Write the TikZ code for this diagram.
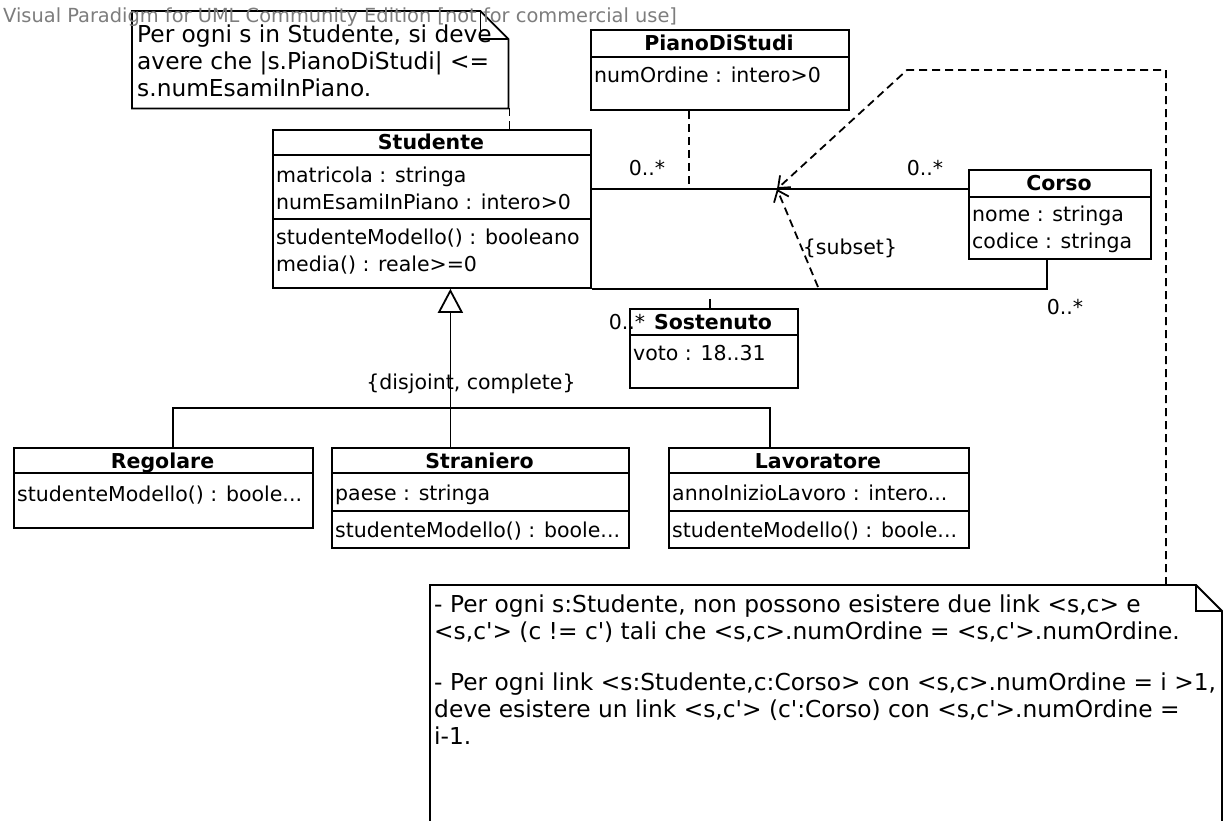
\documentclass[tikz,border=0pt]{standalone}
\usepackage{fontspec}
\setmainfont{DejaVu Sans}
\usetikzlibrary{arrows.meta}
\newcommand\clsfont{\fontsize{20.5}{27}\selectfont}
\newcommand\hdfont{\bfseries\fontsize{20.5}{27}\selectfont}
\newcommand\ntfont{\fontsize{23.3}{27}\selectfont}
\newcommand\wmfont{\fontsize{19.4}{22}\selectfont}
\definecolor{wmgray}{RGB}{125,125,125}
\begin{document}
\begin{tikzpicture}[x=1pt, y=-1pt,
  box/.style={draw, line width=1.8pt, inner sep=0pt, anchor=north west, fill=white},
  sep/.style={line width=1.8pt},
  conn/.style={line width=1.8pt},
  dconn/.style={line width=1.8pt, dash pattern=on 8pt off 5pt},
  head/.style={font=\hdfont, inner sep=0pt, text height=14.9pt, text depth=0pt},
  txt/.style={font=\clsfont, inner sep=0pt, anchor=west, text height=14.9pt, text depth=0pt},
  lbl/.style={font=\clsfont, inner sep=0pt, text height=14.9pt, text depth=0pt},
  ntxt/.style={font=\ntfont, inner sep=0pt, anchor=west, text height=17pt, text depth=0pt},
  opentip/.style={-{Straight Barb[length=10pt, width=16pt]}}
]
\useasboundingbox (0,0) rectangle (1223,820);
\fill[white] (0,0) rectangle (1223,820);

% ---- note on Studente
\node[inner sep=0pt, minimum width=376pt, minimum height=97pt, anchor=north west] (note1) at (132,11) {};
\draw[conn, fill=white] (note1.north west) -- ([xshift=-28pt]note1.north east) -- ([yshift=-28pt]note1.north east) -- (note1.south east) -- (note1.south west) -- cycle;
\draw[conn] ([xshift=-28pt]note1.north east) -- ([xshift=-28pt, yshift=-28pt]note1.north east) -- ([yshift=-28pt]note1.north east);
\node[ntxt] (n1l1) at (137,34) {Per ogni s in Studente, si deve};
\node[ntxt] (n1l2) at (137,61) {avere che |s.PianoDiStudi| <=};
\node[ntxt] (n1l3) at (137,88) {s.numEsamiInPiano.};

% ---- Studente
\node[box, minimum width=318pt, minimum height=158pt] (studente) at (272,129) {};
\draw[sep] (272,155) -- (590,155);
\draw[sep] (272,219) -- (590,219);
\node[head] (stuh) at (431,142) {Studente};
\node[txt] (stu1) at (276,175) {matricola : stringa};
\node[txt] (stu2) at (276,202) {numEsamiInPiano : intero>0};
\node[txt] (stu3) at (276,237) {studenteModello() : booleano};
\node[txt] (stu4) at (276,264) {media() : reale>=0};

\draw[dconn] ([xshift=1pt]note1.south east) -- ([xshift=1pt]note1.south east |- studente.north);

% ---- PianoDiStudi
\node[box, minimum width=258pt, minimum height=80pt] (pds) at (590,29) {};
\draw[sep] (590,57) -- (848,57);
\node[head] (pdsh) at (719,43) {PianoDiStudi};
\node[txt] (pds1) at (594,75) {numOrdine : intero>0};

% ---- Corso
\node[box, minimum width=182pt, minimum height=89pt] (corso) at (968,169) {};
\draw[sep] (968,197) -- (1150,197);
\node[head] (corsoh) at (1059,183) {Corso};
\node[txt] (corso1) at (972,214) {nome : stringa};
\node[txt] (corso2) at (972,241) {codice : stringa};

% ---- Sostenuto
\node[box, minimum width=168pt, minimum height=79pt] (sost) at (629,308) {};
\draw[sep] (629,335) -- (797,335);
\node[head] (sosth) at (713,322) {Sostenuto};
\node[txt] (sost1) at (633,353) {voto : 18..31};

% ---- subclasses
\node[box, minimum width=299pt, minimum height=80pt] (regolare) at (13,447) {};
\draw[sep] (13,473) -- (312,473);
\node[head] (regh) at (162.5,461) {Regolare};
\node[txt] (reg1) at (17,494) {studenteModello() : boole...};

\node[box, minimum width=297pt, minimum height=100pt] (straniero) at (331,447) {};
\draw[sep] (331,473) -- (628,473);
\draw[sep] (331,511) -- (628,511);
\node[head] (strh) at (479.5,461) {Straniero};
\node[txt] (str1) at (335,493) {paese : stringa};
\node[txt] (str2) at (335,530) {studenteModello() : boole...};

\node[box, minimum width=300pt, minimum height=100pt] (lavoratore) at (668,447) {};
\draw[sep] (668,473) -- (968,473);
\draw[sep] (668,511) -- (968,511);
\node[head] (lavh) at (818,461) {Lavoratore};
\node[txt] (lav1) at (672,493) {annoInizioLavoro : intero...};
\node[txt] (lav2) at (672,530) {studenteModello() : boole...};

% ---- associations
\coordinate (stuA) at ([yshift=-60pt]studente.north east);
\coordinate (corA) at ([yshift=-20pt]corso.north west);
\draw[conn] (stuA) -- (corA);
\coordinate (corB) at ([xshift=79pt]corso.south west);
\draw[conn] (studente.south east) -| (corB);

\coordinate (pdsfoot) at ([xshift=99pt]pds.south west);
\draw[dconn] (pdsfoot) -- (pdsfoot |- stuA);
\coordinate (sosttop) at ([xshift=-4pt]sost.north);
\draw[conn, dash pattern=on 0pt off 10pt on 12pt] (sosttop |- studente.south) -- (sosttop);

\node[lbl] (m1) at (647,168) {0..*};
\node[lbl] (m2) at (925,168) {0..*};
\node[lbl] (m3) at (1065,307) {0..*};
\node[lbl] (m4) at (627,322) {0..*};

% ---- generalization set
\coordinate (gbar) at (449.5,408);
\draw[conn] ([xshift=9.5pt]regolare.north) |- (gbar) -| ([xshift=-49pt]lavoratore.north);
\draw[conn, -{Triangle[open, length=24pt, width=25pt]}] ([xshift=-30pt]straniero.north) -- ([xshift=-30pt]straniero.north |- studente.south);
\node[lbl] (gset) at (471,382) {\{disjoint, complete\}};

% ---- constraint note
\coordinate (n2nw) at (430,585);
\draw[conn, fill=white] (430,822) -- (n2nw) -- (1196,585) -- (1222,611) -- (1222,822);
\draw[conn] (1196,585) -- (1196,611) -- (1222,611);
\node[ntxt] (n2l1) at (434,604) {- Per ogni s:Studente, non possono esistere due link <s,c> e};
\node[ntxt] (n2l2) at (434,631) {<s,c\textquotesingle> (c != c\textquotesingle) tali che <s,c>.numOrdine = <s,c\textquotesingle>.numOrdine.};
\node[ntxt] (n2l3) at (434,682) {- Per ogni link <s:Studente,c:Corso> con <s,c>.numOrdine = i >1,};
\node[ntxt] (n2l4) at (434,709) {deve esistere un link <s,c\textquotesingle> (c\textquotesingle:Corso) con <s,c\textquotesingle>.numOrdine =};
\node[ntxt] (n2l5) at (434,736) {i-1.};

% ---- subset constraint and note link
\coordinate (subpt) at (777,189);
\coordinate (subfoot) at (818,287);
\coordinate (n2top) at (1166,585);
\coordinate (bend) at (907,70);
\draw[dconn, opentip] (subfoot) -- (subpt);
\draw[dconn, opentip] (n2top) |- (bend) -- (subpt);
\node[lbl] (subl) at (850,247) {\{subset\}};

% ---- tool watermark
\node[font=\wmfont, text=wmgray, anchor=west, inner sep=0pt, text height=14pt, text depth=0pt] (wm) at (3,15) {Visual Paradigm for UML Community Edition [not for commercial use]};
\end{tikzpicture}
\end{document}
